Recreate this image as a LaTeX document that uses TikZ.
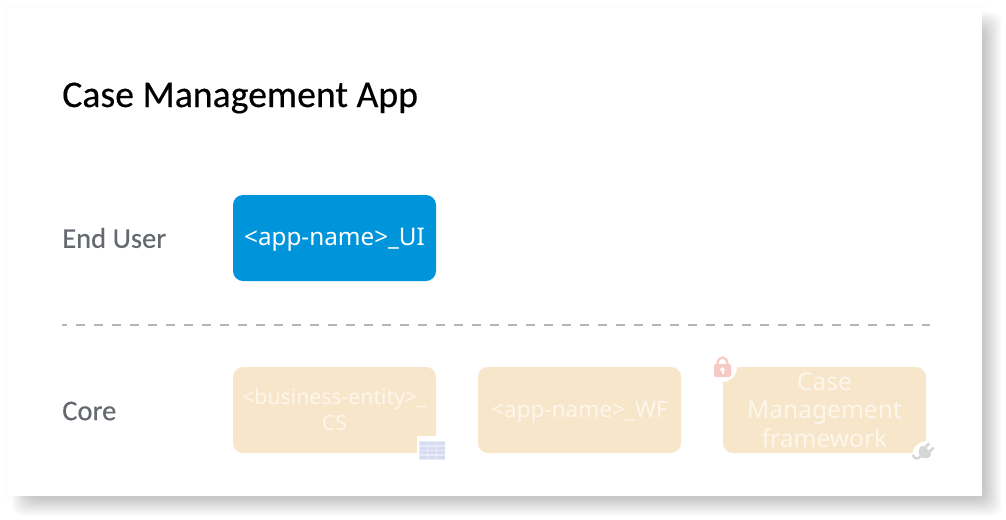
\documentclass[tikz,border=0pt]{standalone}
\usepackage{fontspec}
\setmainfont{Noto Sans}
\newfontfamily\labelfont[FakeBold=0.3]{Carlito}
\usetikzlibrary{calc, positioning}
\definecolor{uiblue}{HTML}{0095DA}
\definecolor{corepeach}{HTML}{F8E6CB}
\definecolor{coretext}{HTML}{FDF6EC}
\definecolor{rowgray}{HTML}{64686F}
\definecolor{lockpink}{HTML}{F7C9C4}
\definecolor{tableblue}{HTML}{D5DCF1}
\definecolor{tablepale}{HTML}{E8EBF7}
\definecolor{pluggray}{HTML}{D6D6D6}
\definecolor{dashgray}{HTML}{B2B5BA}
\tikzset{
  appbox/.style={rounded corners=7.5pt, minimum width=152.25pt, minimum height=64.5pt, inner sep=0pt, align=center},
  uibox/.style={appbox, fill=uiblue, text=white},
  corebox/.style={appbox, fill=corepeach, text=coretext},
  rowlabel/.style={anchor=west, inner sep=0pt, text=rowgray, font=\labelfont\fontsize{21.4}{24}\selectfont},
  notch/.style={circle, fill=white, minimum size=22.5pt, inner sep=0pt},
}
\begin{document}
\begin{tikzpicture}[x=0.75pt, y=-0.75pt]
   \useasboundingbox (0, 0) rectangle (1006, 519);
   % soft shadow of the card
   \foreach \i in {0, ..., 18} {
      \fill[black, opacity=0.012, rounded corners=8pt] ($(30, 30)-(\i, \i)$) rectangle ($(984, 498)+(\i, \i)$);
   }
   \fill[black, opacity=0.006] (4, 4) rectangle (986, 500);
   \fill[white] (8, 8) rectangle (982, 496);

   \node[anchor=west, inner sep=0pt, font=\labelfont\fontsize{28.3}{34}\selectfont] (title) at (62, 98) {Case Management App};
   \node[rowlabel] (endUser) at (62, 238) {End User};
   \node[rowlabel] (core) at (62, 411) {Core};

   \node[uibox, font=\fontsize{18.2}{22}\selectfont] (ui) at (334.5, 238) {\rule{0pt}{15pt}<app-name>\_UI};

   \coordinate (dashA) at (62, 325);
   \coordinate (dashB) at (930, 325);
   \draw[dashgray, line width=1.1pt, dash pattern=on 6.75pt off 6.75pt, dash phase=3pt] (dashA) -- (dashB);

   \node[corebox, font=\fontsize{15.9}{19.5}\selectfont] (cs) at (334.5, 410) {<business-entity>\_\\CS};
   \node[corebox, font=\fontsize{16.9}{21}\selectfont] (wf) at (579.5, 410) {\rule{0pt}{15.5pt}<app-name>\_WF};
   \node[corebox, font=\fontsize{18.4}{21.4}\selectfont] (fw) at (824.5, 410) {Case\\Management\\framework};

   % table icon
   \node[fill=white, minimum size=21.75pt, inner sep=0pt] (tableBack) at (431, 450) {};
   \fill[tablepale] (419, 441) rectangle (444.5, 460);
   \foreach \r in {0, ..., 3} {
      \foreach \c in {0, 1, 2} {
         \fill[tableblue] (419.5+\c*8.7, 442+\r*4.6) rectangle ++(7.7, 3.2);
      }
   }

   % lock icon
   \node[notch] (lockBack) at (722, 367) {};
   \fill[lockpink, rounded corners=1.5pt] (714, 364) rectangle (731, 377);
   \draw[lockpink, line width=1.6pt] (717.5, 365) -- (717.5, 363) arc (180:360:5 and 5.5) -- (727.5, 365);
   \fill[white] (722.5, 369.5) circle (2.2);
   \fill[white] (721.5, 370) rectangle (723.5, 374);

   % plug icon
   \node[notch] (plugBack) at (927, 456) {};
   \begin{scope}[shift={(926, 451)}, rotate=-45, scale=1.1, pluggray]
      \fill[rounded corners=2pt] (-6, -2) -- (6, -2) -- (6, 4) -- (0, 8) -- (-6, 4) -- cycle;
      \fill (-4, -7) rectangle (-1.5, -2);
      \fill (1.5, -7) rectangle (4, -2);
      \draw[line width=1.8pt] (0, 7) .. controls (0, 12) and (-3, 12) .. (-6, 11);
   \end{scope}
\end{tikzpicture}
\end{document}
